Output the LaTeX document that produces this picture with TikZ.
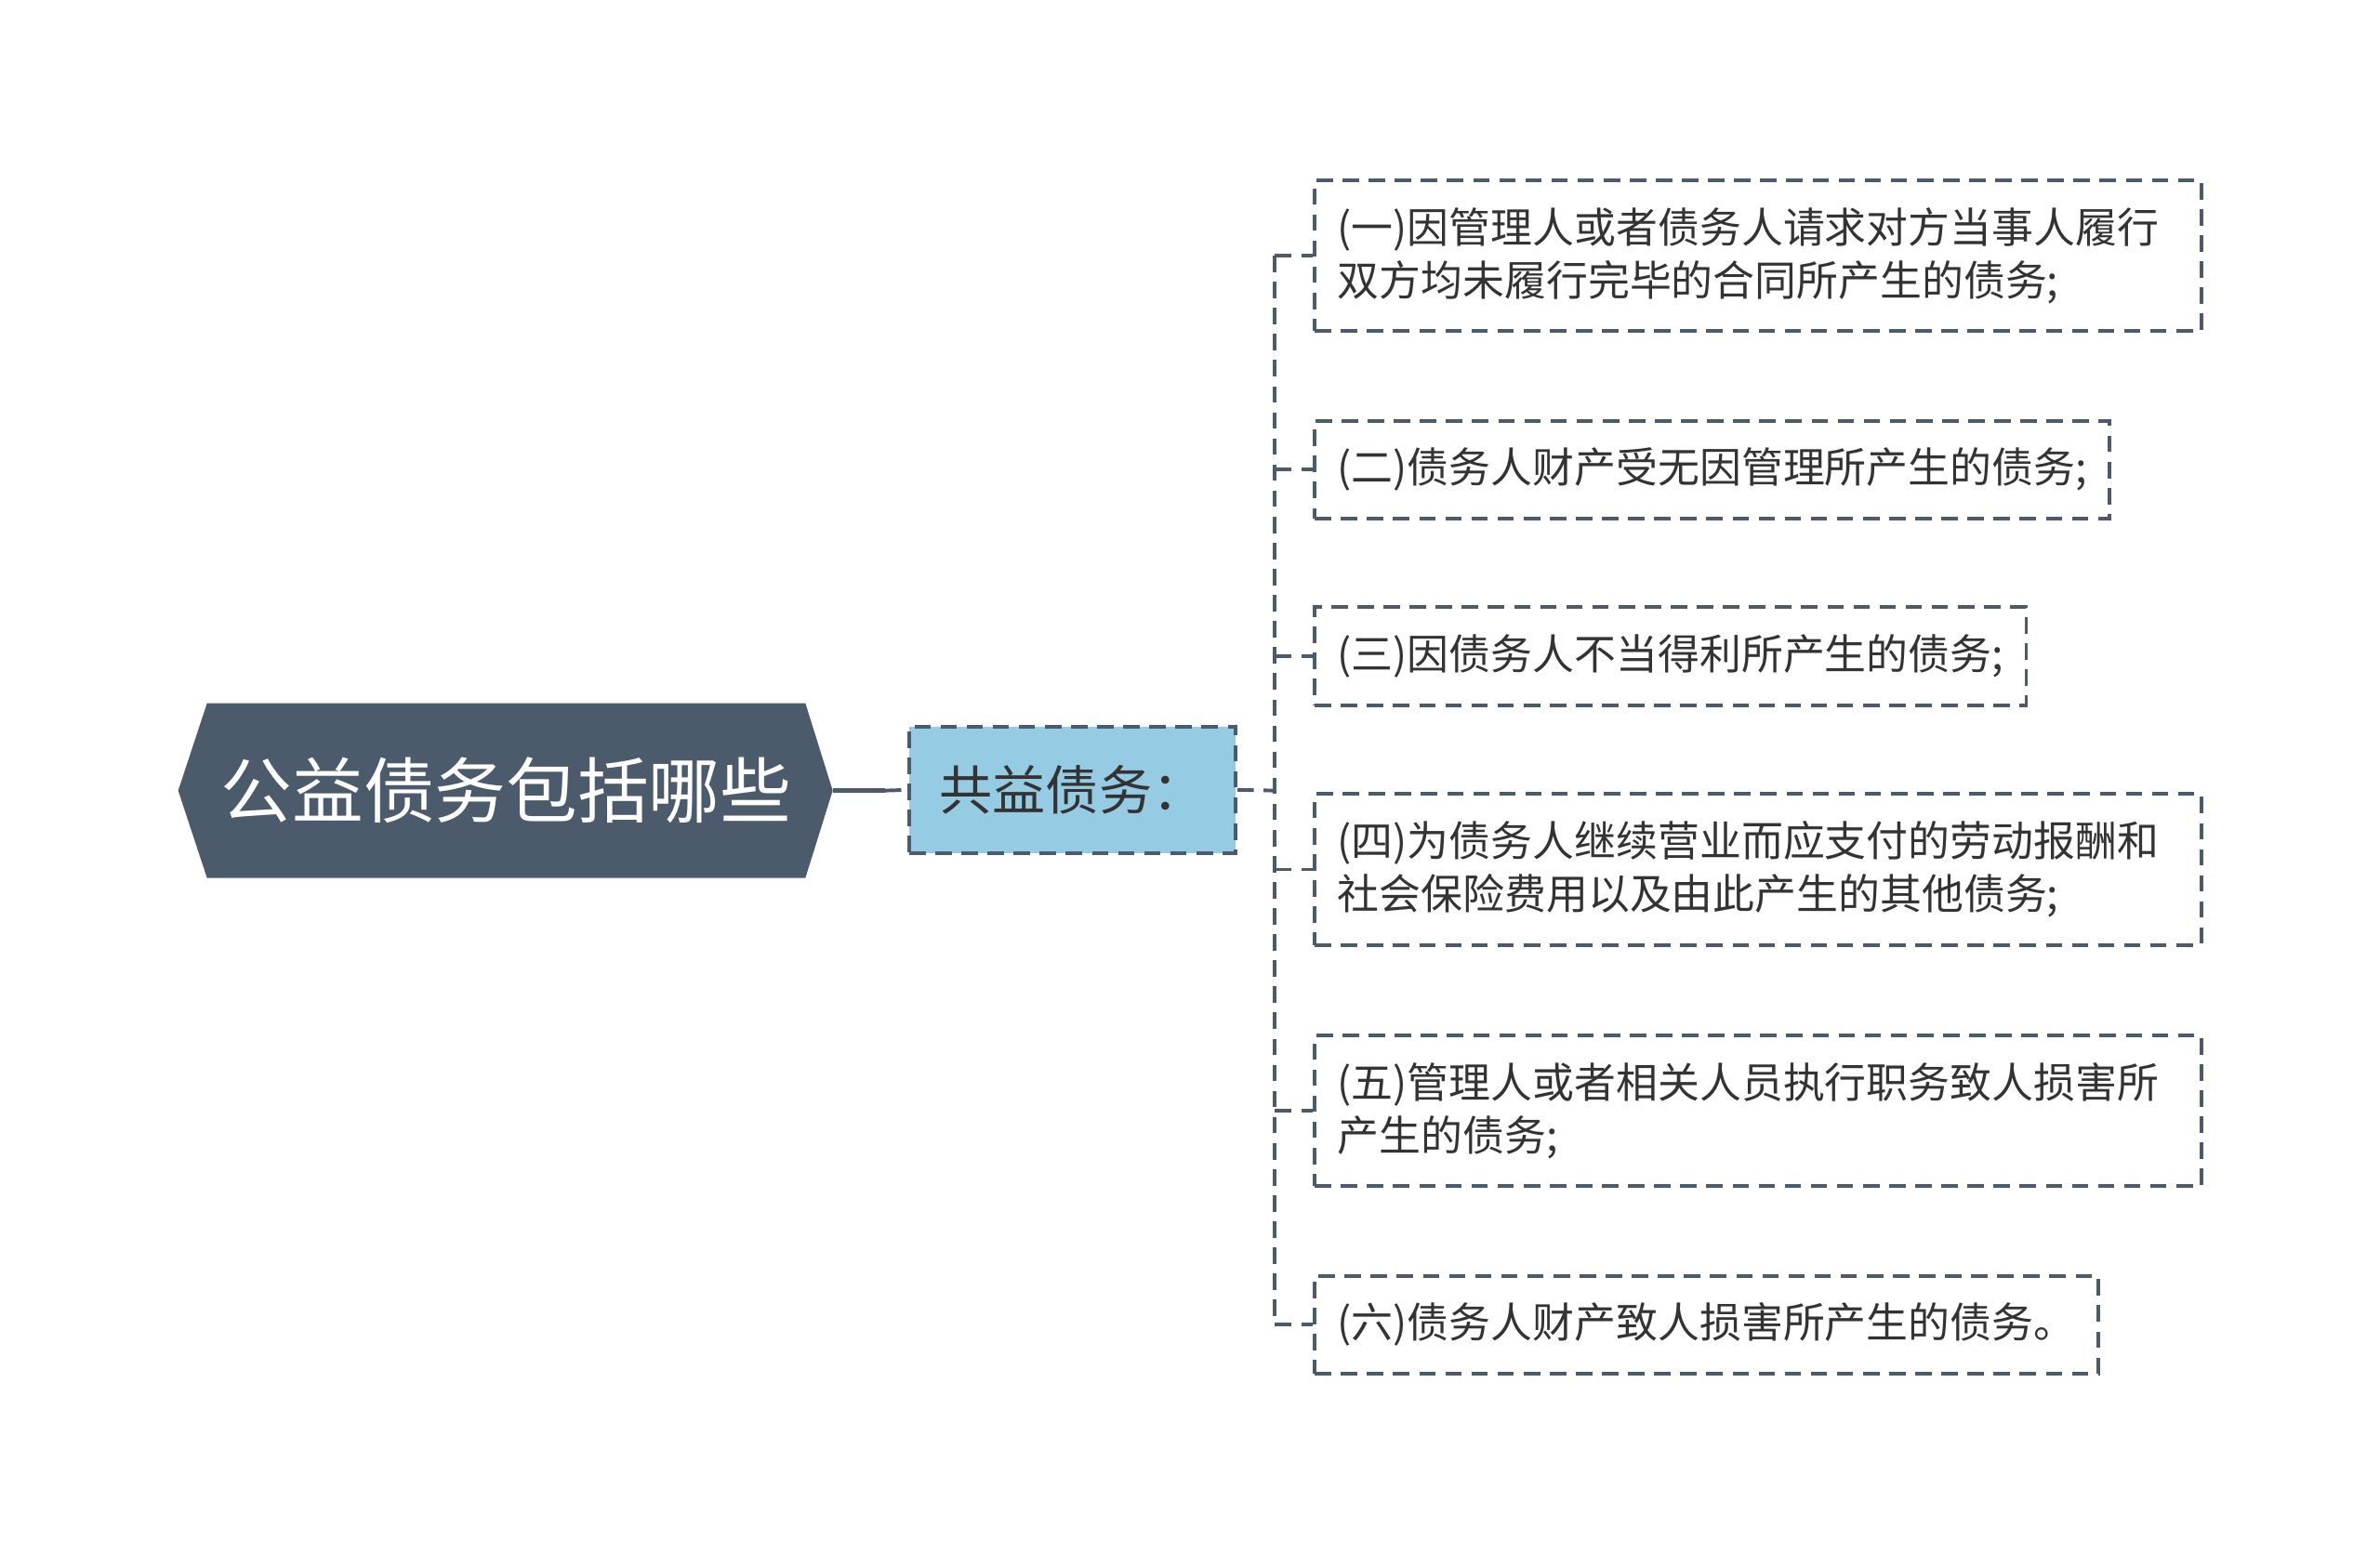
\documentclass[tikz,border=0pt]{standalone}
\usepackage{fontspec}
\setmainfont{Noto Sans CJK SC}
\usepackage{xcolor}
\usepackage{tikz}
\usetikzlibrary{backgrounds}

\definecolor{rootfill}{HTML}{4B5B6B}
\definecolor{subfill}{HTML}{96CBE4}
\definecolor{linecol}{HTML}{4B5B6B}
\definecolor{txt}{HTML}{333333}

\begin{document}
\begin{tikzpicture}[x=0.5pt,y=-0.5pt,semithick]

		\useasboundingbox (0,0) rectangle (1568,1024);

		\tikzstyle{conn}=[draw=linecol,line width=1.2pt,dash pattern=on 5.4pt off 3.2pt]
		\tikzstyle{leaf}=[conn,fill=white,text=txt,anchor=west,align=left,inner xsep=7.5pt,inner ysep=9pt,font=\fontsize{13.75pt}{17.5pt}\selectfont]
		\tikzstyle{wide}=[text width=277pt]

		\node[text=white,font=\fontsize{23.5pt}{28pt}\selectfont,minimum width=196.5pt,minimum height=57pt,inner sep=0pt] (R) at (333.5,521) {公益债务包括哪些};
		\node[conn,fill=subfill,text=txt,font=\fontsize{17.5pt}{21pt}\selectfont,minimum width=107.5pt,minimum height=41.5pt,inner sep=0pt] (S) at (706.5,520.5) {共益债务：};

		\node[leaf,wide] (A) at (865,168.5) {(一)因管理人或者债务人请求对方当事人履行\\双方均未履行完毕的合同所产生的债务;};
		\node[leaf]      (B) at (865,309.5) {(二)债务人财产受无因管理所产生的债务;};
		\node[leaf]      (C) at (865,432.5) {(三)因债务人不当得利所产生的债务;};
		\node[leaf,wide] (D) at (865,573)   {(四)为债务人继续营业而应支付的劳动报酬和\\社会保险费用以及由此产生的其他债务;};
		\node[leaf,wide] (E) at (865,732)   {(五)管理人或者相关人员执行职务致人损害所\\产生的债务;};
		\node[leaf]      (F) at (865,873)   {(六)债务人财产致人损害所产生的债务。};

		\begin{scope}[on background layer]
			\fill[rootfill] ([xshift=-9.5pt]R.west) -- (R.north west) -- (R.north east)
				-- ([xshift=9pt]R.east) -- (R.south east) -- (R.south west) -- cycle;
		\end{scope}

		\coordinate (K) at (583,521);
		\coordinate (J) at (840,521);

		\draw[linecol,line width=1.5pt] ([xshift=9pt]R.east) -- (K);
		\draw[conn] (K) -- (S.west);
		\draw[conn] (S.east) -- (J);
		\draw[conn] (J |- A.west) -- (J |- F.west);
		\foreach \n in {A,B,C,D,E,F}
			\draw[conn] (J |- \n.west) -- (\n.west);

	\end{tikzpicture}
\end{document}
